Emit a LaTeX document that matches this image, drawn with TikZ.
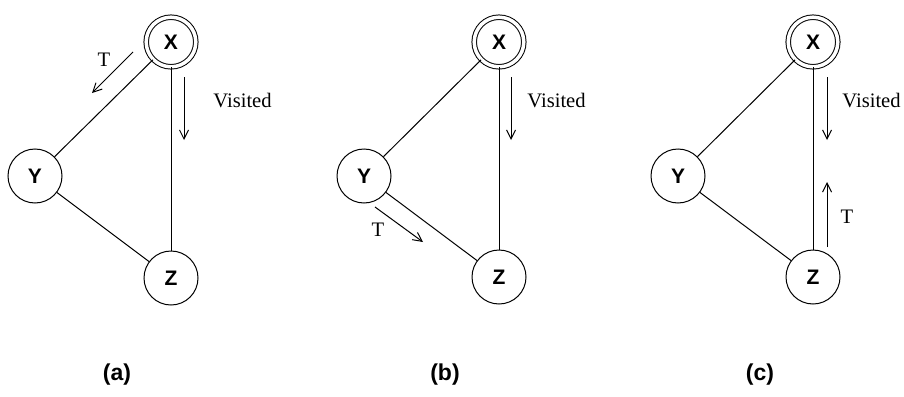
\documentclass[tikz,border=0pt]{standalone}
\usepackage{fontspec}
\setmainfont{Liberation Serif}
\setsansfont{Liberation Sans}
\usetikzlibrary{arrows,arrows.meta,positioning,calc}

\begin{document}
\begin{tikzpicture}[
	x=0.5pt, y=-0.5pt,
	vertex/.style={
		circle,
		draw=black,
		line width=0.5pt,
		minimum size=27pt,
		inner sep=0pt,
		font=\sffamily\bfseries\fontsize{10.5}{12}\selectfont
	},
	root/.style={
		vertex,
		minimum size=24.8pt,
		double,
		double distance=1.75pt
	},
	edge/.style={line width=0.5pt},
	move/.style={-{Straight Barb[length=4.5pt,width=4.5pt]}, line width=0.5pt},
	tag/.style={font=\fontsize{10.3}{12}\selectfont, inner sep=0pt},
	caption/.style={font=\sffamily\bfseries\fontsize{11.5}{13}\selectfont}
	]
	\useasboundingbox (0,0) rectangle (904,396);

	% (a)
	\node[root] (Xa) at (171,42) {X};
	\node[vertex] (Ya) at (35,176) {Y};
	\node[vertex] (Za) at (171,278) {Z};
	\draw[edge] (Xa) -- (Ya);
	\draw[edge] (Ya) -- (Za);
	\draw[edge] (Xa) -- (Za);
	\coordinate (Ta1) at (133,52);
	\coordinate (Ta2) at (92,93);
	\draw[move] (Ta1) -- (Ta2);
	\node[tag] (Ta) at (104,60) {T};
	\coordinate (Va1) at (184,77);
	\coordinate (Va2) at (184,140);
	\draw[move] (Va1) -- (Va2);
	\node[tag, anchor=west] (Va) at (213,101) {Visited};
	\node[caption] (capa) at (117,375) {(a)};

	% (b)
	\node[root] (Xb) at (499,42) {X};
	\node[vertex] (Yb) at (364,176) {Y};
	\node[vertex] (Zb) at (499,277) {Z};
	\draw[edge] (Xb) -- (Yb);
	\draw[edge] (Yb) -- (Zb);
	\draw[edge] (Xb) -- (Zb);
	\coordinate (Tb1) at (375,207);
	\coordinate (Tb2) at (423,242);
	\draw[move] (Tb1) -- (Tb2);
	\node[tag] (Tb) at (378,230) {T};
	\coordinate (Vb1) at (511,77);
	\coordinate (Vb2) at (511,140);
	\draw[move] (Vb1) -- (Vb2);
	\node[tag, anchor=west] (Vb) at (527,101) {Visited};
	\node[caption] (capb) at (445,375) {(b)};

	% (c)
	\node[root] (Xc) at (813,42) {X};
	\node[vertex] (Yc) at (678,176) {Y};
	\node[vertex] (Zc) at (813,277) {Z};
	\draw[edge] (Xc) -- (Yc);
	\draw[edge] (Yc) -- (Zc);
	\draw[edge] (Xc) -- (Zc);
	\coordinate (Vc1) at (827,77);
	\coordinate (Vc2) at (827,140);
	\draw[move] (Vc1) -- (Vc2);
	\node[tag, anchor=west] (Vc) at (842,101) {Visited};
	\coordinate (Tc1) at (827,247);
	\coordinate (Tc2) at (827,182);
	\draw[move] (Tc1) -- (Tc2);
	\node[tag] (Tc) at (847,217) {T};
	\node[caption] (capc) at (760,375) {(c)};
\end{tikzpicture}
\end{document}
